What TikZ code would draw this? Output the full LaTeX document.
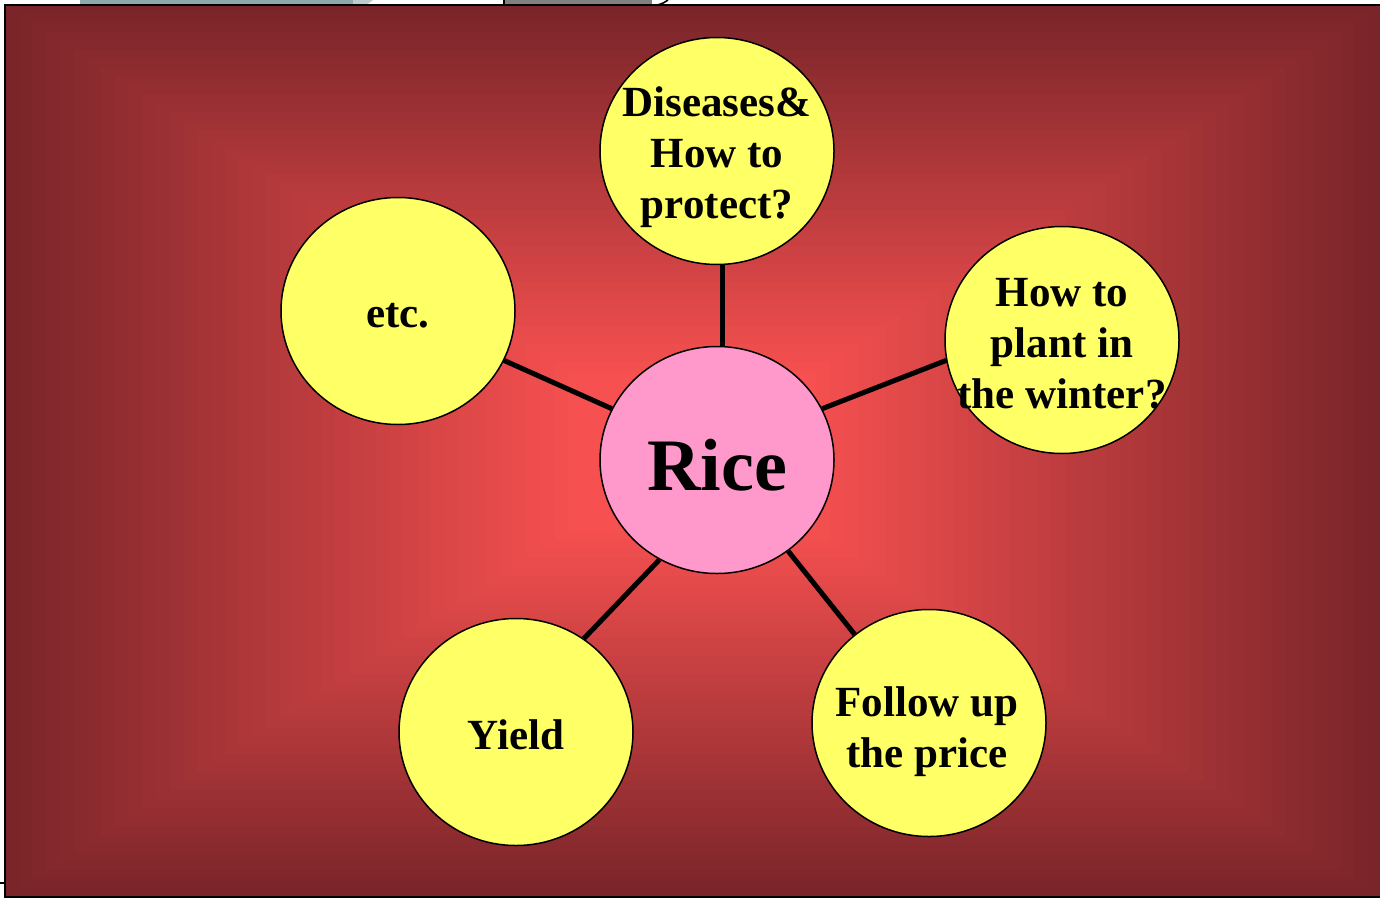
\documentclass[tikz,border=0pt]{standalone}
\usepackage{fontspec}
\setmainfont{Liberation Serif}
\usetikzlibrary{shapes.geometric}
\definecolor{bgouter}{RGB}{122,37,41}
\definecolor{bginner}{RGB}{246,80,80}
\definecolor{bubblefill}{RGB}{255,255,102}
\definecolor{hubfill}{RGB}{255,153,204}
\definecolor{tabblue}{RGB}{143,170,170}
\definecolor{tabgray}{RGB}{128,128,128}
\tikzset{
  bubble/.style={ellipse, draw=black, line width=0.75pt, fill=bubblefill,
    minimum width=117pt, minimum height=113.5pt, inner sep=0pt},
  hub/.style={bubble, fill=hubfill},
  bubbletext/.style={font=\fontsize{21.5}{25.5}\selectfont\bfseries, align=center, inner sep=0pt},
  hubtext/.style={font=\fontsize{37}{40}\selectfont\bfseries, inner sep=0pt},
  spoke/.style={line width=2.5pt, black}
}
\begin{document}
\begin{tikzpicture}[x=0.5pt, y=-0.5pt]
\useasboundingbox (0,0) rectangle (1380,899);
\fill[white] (0,0) rectangle (1380,899);
% slide fragments peeking out above the panel
\fill[tabblue] (80,0) rectangle (353,6);
\fill[tabblue!60!white] (353,0) -- (373,0) -- (365,6) -- (353,6) -- cycle;
\fill[tabgray] (504,0) rectangle (652,6);
\draw[black, line width=0.6pt] (504,0) -- (504,6);
\draw[black, line width=0.8pt] (652,6) .. controls (662,4) .. (668,0);
% panel with a rectangular gradient from the centre outwards
\pgfmathsetmacro{\cx}{692}
\pgfmathsetmacro{\cy}{451}
\foreach \i in {0,...,48}{
  \pgfmathsetmacro{\f}{\i/50}
  \pgfmathsetmacro{\p}{min(100,100*\i/41)}
  \fill[bginner!\p!bgouter]
    ({5+\f*(\cx-5)},{5+\f*(\cy-5)}) rectangle
    ({1382-\f*(1382-\cx)},{897-\f*(897-\cy)});
}
\draw[black, line width=0.8pt] (5,5) rectangle (1382,897);
\draw[black, line width=0.6pt] (0,883) -- (5,883);
% hub and topic bubbles
\node[hub] (rice) at (717,460) {};
\node[bubble] (dis) at (717,151) {};
\node[bubble] (etc) at (398,311) {};
\node[bubble] (winter) at (1062,340) {};
\node[bubble] (yield) at (516,732) {};
\node[bubble] (price) at (929,723) {};
% spokes
\draw[spoke] (rice.87) -- (dis.273);
\draw[spoke] (rice.154) -- (etc.335);
\draw[spoke] (rice.26) -- (winter.190);
\draw[spoke] (rice.240) -- (yield.54);
\draw[spoke] (rice.308) -- (price.130);
% labels
\node[bubbletext] at ([yshift=-3pt]dis) {Diseases\&\\How to\\protect?};
\node[hubtext] at ([yshift=-2.5pt]rice) {Rice};
\node[bubbletext] at ([yshift=-2.5pt]etc) {etc.};
\node[bubbletext] at ([yshift=-2pt]winter) {How to\\plant in\\the winter?};
\node[bubbletext] at ([yshift=-1.5pt]yield) {Yield};
\node[bubbletext] at ([yshift=-4.5pt,xshift=-1pt]price) {Follow up\\the price};
\end{tikzpicture}
\end{document}
